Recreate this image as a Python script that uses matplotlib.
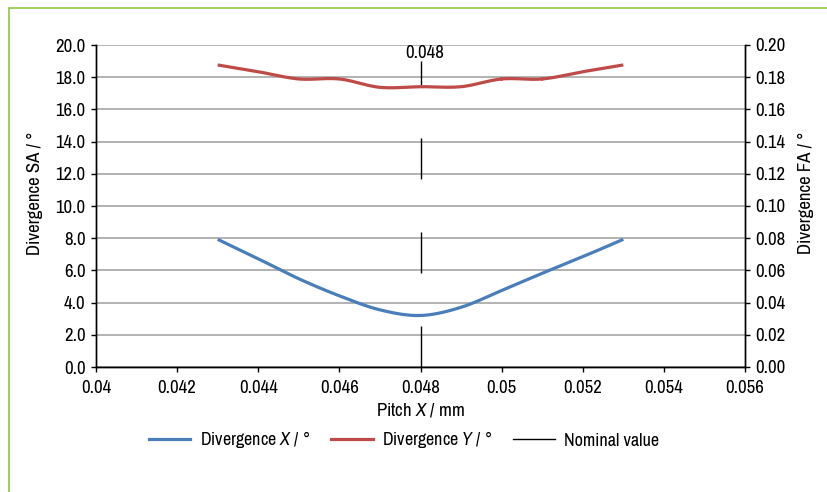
import numpy as np
import matplotlib
matplotlib.use('Agg')
import matplotlib.pyplot as plt
from matplotlib import font_manager
from matplotlib.lines import Line2D
from matplotlib.patches import Rectangle

# pick a narrow sans font if one is installed (reference uses a condensed face)
font_name, font_stretch = 'DejaVu Sans', 'normal'
_fonts = font_manager.fontManager.ttflist
_rank = {'extra-condensed': 0, 'condensed': 1, 'semi-condensed': 2}
_narrow = []
for f in _fonts:
    if 'Mono' in f.name or 'Serif' in f.name or 'CJK' in f.name or f.style != 'normal':
        continue
    st = str(f.stretch)
    if st in _rank:
        _narrow.append((_rank[st], abs(int(f.weight) - 400) if str(f.weight).isdigit() else 100, f.name, st))
    elif 'Narrow' in f.name or 'Condensed' in f.name:
        _narrow.append((1, 0, f.name, 'normal'))
if _narrow:
    _narrow.sort()
    font_name, font_stretch = _narrow[0][2], _narrow[0][3]
plt.rcParams['font.family'] = [font_name, 'DejaVu Sans']
plt.rcParams['font.stretch'] = font_stretch
plt.rcParams['mathtext.fontset'] = 'custom'
plt.rcParams['mathtext.it'] = font_name + ':italic:stretch=' + font_stretch
plt.rcParams['mathtext.rm'] = font_name + ':stretch=' + font_stretch

### Data
pitch = [0.043, 0.044, 0.045, 0.046, 0.047, 0.048, 0.049, 0.050, 0.051, 0.052, 0.053]
div_x = [7.93, 6.72, 5.48, 4.42, 3.55, 3.20, 3.71, 4.75, 5.82, 6.85, 7.93]          # left axis (SA)
div_y = [0.1876, 0.1834, 0.1789, 0.1789, 0.1737, 0.1741, 0.1741, 0.1789, 0.1789, 0.1834, 0.1876]  # right axis (FA)
nominal_x = [0.048, 0.048]
nominal_y = [0.0, 19.0]
nominal_label = '0.048'

x_ticks = [0.04, 0.042, 0.044, 0.046, 0.048, 0.05, 0.052, 0.054, 0.056]
x_tick_labels = ['0.04', '0.042', '0.044', '0.046', '0.048', '0.05', '0.052', '0.054', '0.056']
left_ticks = [0, 2, 4, 6, 8, 10, 12, 14, 16, 18, 20]
right_ticks = [0, 0.02, 0.04, 0.06, 0.08, 0.10, 0.12, 0.14, 0.16, 0.18, 0.20]

blue = '#4a7ebb'
red = '#be4b48'
grid_grey = '#a6a6a6'
green = '#8dc63f'
fs = 13.5


def smooth(xs, ys, n=30):
    # Excel-style smoothed line (Catmull-Rom through the data points)
    xs = np.asarray(xs, float)
    ys = np.asarray(ys, float)
    px = np.concatenate([[xs[0]], xs, [xs[-1]]])
    py = np.concatenate([[ys[0]], ys, [ys[-1]]])
    t = np.linspace(0, 1, n)[:, None]
    outx, outy = [], []
    for i in range(1, len(px) - 2):
        for p, out in ((px, outx), (py, outy)):
            p0, p1, p2, p3 = p[i - 1], p[i], p[i + 1], p[i + 2]
            seg = 0.5 * ((2 * p1) + (-p0 + p2) * t + (2 * p0 - 5 * p1 + 4 * p2 - p3) * t ** 2
                         + (-p0 + 3 * p1 - 3 * p2 + p3) * t ** 3)
            out.append(seg.ravel())
    return np.concatenate(outx), np.concatenate(outy)


fig = plt.figure(figsize=(8.28, 4.92), dpi=100)
ax = fig.add_axes([96 / 828, 1 - 367 / 492, 649 / 828, 322 / 492])
ax2 = ax.twinx()

# green frame
fig.add_artist(Rectangle((9 / 828, -0.2), 1.2, 1.2 - 8 / 492, transform=fig.transFigure,
                         fill=False, edgecolor=green, linewidth=1.2, clip_on=False))

sx, sy = smooth(pitch, div_x)
l1, = ax.plot(sx, sy, color=blue, lw=2.3, solid_capstyle='butt', zorder=3)
l3, = ax.plot(nominal_x, nominal_y, color='black', lw=1.0, dashes=(29.5, 38.2), zorder=4)
ax.annotate(nominal_label, (nominal_x[1], nominal_y[1]), xytext=(3, 0), textcoords='offset points',
            ha='center', va='bottom', fontsize=fs)
sx2, sy2 = smooth(pitch, div_y)
l2, = ax2.plot(sx2, sy2, color=red, lw=2.3, solid_capstyle='butt', zorder=3)

ax.set_xlim(0.04, 0.056)
ax.set_ylim(0, 20)
ax2.set_ylim(0, 0.2)
ax.set_xticks(x_ticks)
ax.set_xticklabels(x_tick_labels)
ax.set_yticks(left_ticks)
ax.set_yticklabels(['%.1f' % v for v in left_ticks])
ax2.set_yticks(right_ticks)
ax2.set_yticklabels(['%.2f' % v for v in right_ticks])

ax.grid(axis='y', color=grid_grey, lw=1.2)
ax.set_axisbelow(True)
for a in (ax, ax2):
    a.spines['top'].set_visible(False)
    for s in ('left', 'right', 'bottom'):
        a.spines[s].set_color('black')
        a.spines[s].set_linewidth(1.0)
    a.tick_params(labelsize=fs, length=3.5, width=1.0, pad=4, colors='black')
ax.tick_params(axis='x', pad=6)

ax.set_xlabel('Pitch $\\it{X}$ / mm', fontsize=fs, va='top')
ax.xaxis.set_label_coords(0.5, -0.106)
ax.set_ylabel('Divergence SA / °', fontsize=fs)
ax.yaxis.set_label_coords(-0.082, 0.54)
ax2.set_ylabel('Divergence FA / °', fontsize=fs)
ax2.yaxis.set_label_coords(1.082, 0.54)

handles = [Line2D([], [], color=blue, lw=2.3), Line2D([], [], color=red, lw=2.3),
           Line2D([], [], color='black', lw=1.0)]
labels = ['Divergence $\\it{X}$ / °', 'Divergence $\\it{Y}$ / °', 'Nominal value']
fig.legend(handles, labels, loc='center', bbox_to_anchor=(0.488, 1 - 440 / 492), ncol=3,
           frameon=False, fontsize=13, handlelength=2.3, handletextpad=0.5, columnspacing=1.2)

fig.savefig('out.png', dpi=100)
